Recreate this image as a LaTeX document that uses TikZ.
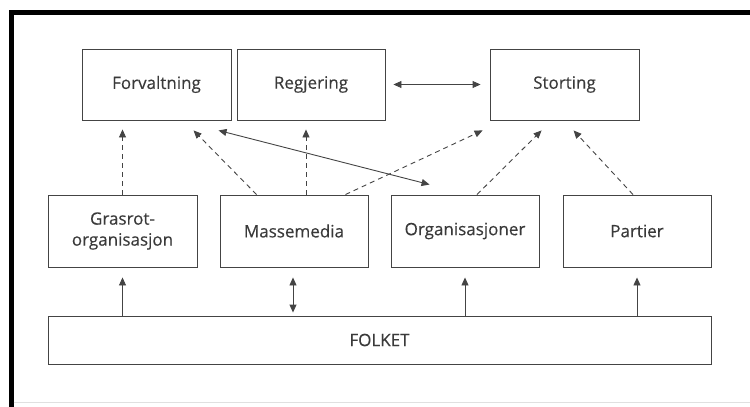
\documentclass[tikz,border=0pt]{standalone}
\usepackage{fontspec}
% regular face, thickened a little for the labels
\newfontfamily\labelfont{Open Sans}[FakeBold=0.35, BoldFont={Open Sans}, BoldFeatures={FakeBold=0.35}]
\usetikzlibrary{calc,arrows.meta}
\definecolor{ink}{HTML}{444444}
\definecolor{textink}{HTML}{3A3A3A}
\tikzset{
  x=1pt, y=-1pt,
  box/.style={draw=ink, line width=0.9pt, minimum width=149pt, minimum height=71pt,
    inner sep=0pt, align=center, text=textink, font=\labelfont\fontsize{17}{21}\selectfont\bfseries},
  tip/.style={-{Triangle[length=8pt,width=7pt]}},
  bitip/.style={{Triangle[length=8pt,width=7pt]}-{Triangle[length=8pt,width=7pt]}},
  link/.style={draw=ink, line width=0.9pt},
  dashlink/.style={link, dash pattern=on 5pt off 4pt},
}
\begin{document}
\begin{tikzpicture}
\useasboundingbox (0,0) rectangle (750,407);
% frame
\fill[black] (9,10) rectangle (750,14.5);
\fill[black] (9,10) rectangle (13.5,407);
\draw[black!12, line width=0.8pt] (13.5,402) -- (750,402);

% top row
\node[box] (forv) at (156.5,84.5) {Forvaltning};
\node[box, minimum width=148pt] (regj) at (311,84.5) {Regjering};
\node[box] (stor) at (564.5,84.5) {Storting};
% middle row
\node[box, minimum height=72pt] (gras) at (122.5,231) {Grasrot-\\organisasjon};
\node[box, minimum width=148pt, minimum height=72pt] (mass) at (294,231) {Massemedia};
\node[box, minimum width=148pt, minimum height=72pt] (orgs) at (465,231) {Organisasjoner};
\node[box, minimum width=148pt, minimum height=72pt] (part) at (637,231) {Partier};
% base
\node[box, minimum width=663pt, minimum height=48pt] (folk) at (379.5,340) {FOLKET};

% government link
\draw[link, bitip] ($(regj.east)+(8,0)$) -- ($(stor.west)+(-9,0)$);

% influence upwards (dashed)
\draw[dashlink, tip] (gras.north) -- ($(gras.north |- forv.south)+(0,9)$);
\draw[dashlink, tip] ($(mass.north west)+(37,0)$) -- ($(forv.south west)+(112,10)$);
\draw[dashlink, tip] ($(mass.north)+(12,0)$) -- ($(mass.north |- regj.south)+(12,9)$);
\draw[dashlink, tip] ($(mass.north east)+(-23,0)$) -- ($(stor.south west)+(-7,10)$);
\draw[dashlink, tip] ($(orgs.north)+(12,0)$) -- ($(stor.south west)+(52,10)$);
\draw[dashlink, tip] ($(part.north)+(-4,0)$) -- ($(stor.south west)+(84,10)$);

% organisations and administration
\draw[link, bitip] ($(forv.south west)+(137,10)$) -- ($(orgs.north west)+(39,-10)$);

% from the people
\draw[link, tip] (folk.north -| gras.south) -- ($(gras.south)+(0,10)$);
\draw[link, bitip] ($(mass.south)+(-1,10)$) -- ($(mass.south |- folk.north)+(-1,-3)$);
\draw[link, tip] (folk.north -| orgs.south) -- ($(orgs.south)+(0,10)$);
\draw[link, tip] (folk.north -| part.south) -- ($(part.south)+(0,10)$);
\end{tikzpicture}
\end{document}
